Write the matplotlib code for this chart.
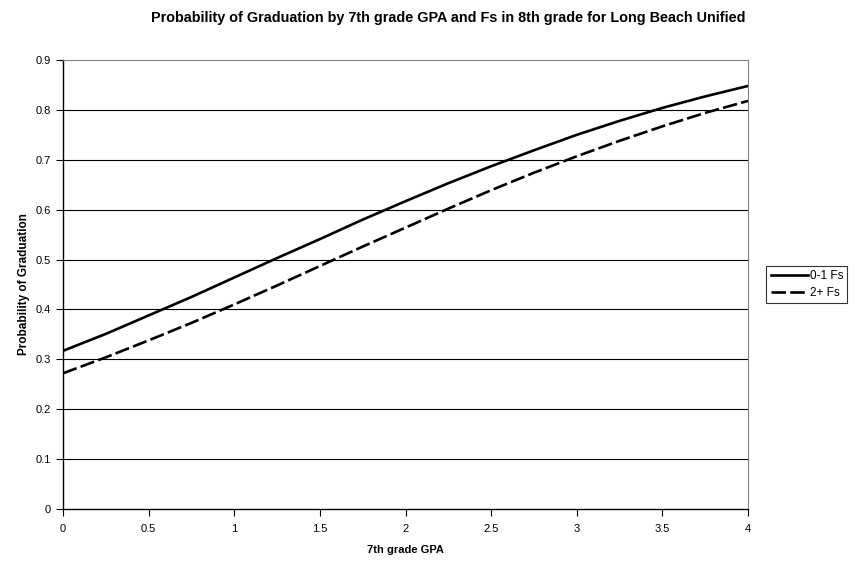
import matplotlib
matplotlib.use("Agg")
import matplotlib.pyplot as plt
from matplotlib.ticker import FuncFormatter

plt.rcParams['font.family'] = ['Liberation Sans', 'DejaVu Sans']

gpa = [0, 0.25, 0.5, 0.75, 1.0, 1.25, 1.5, 1.75, 2.0, 2.25, 2.5, 2.75, 3.0, 3.25, 3.5, 3.75, 4.0]
fs_0_1 = [0.317, 0.351, 0.388, 0.425, 0.464, 0.503, 0.541, 0.580, 0.617, 0.653, 0.687, 0.719, 0.750, 0.778, 0.804, 0.827, 0.848]
fs_2p = [0.272, 0.304, 0.338, 0.373, 0.410, 0.448, 0.487, 0.526, 0.564, 0.602, 0.639, 0.674, 0.707, 0.738, 0.767, 0.794, 0.818]
series_labels = ["0-1 Fs", "2+ Fs"]
x_ticks = [0, 0.5, 1, 1.5, 2, 2.5, 3, 3.5, 4]
y_ticks = [0, 0.1, 0.2, 0.3, 0.4, 0.5, 0.6, 0.7, 0.8, 0.9]

fig = plt.figure(figsize=(8.56, 5.63), dpi=100)
ax = fig.add_axes([63/856, 54/563, (748-63)/856, (509-60)/563])

for y in y_ticks[1:-1]:
    ax.axhline(y, color='black', lw=0.8, zorder=1)

ax.plot(gpa, fs_0_1, color='black', lw=1.9, label=series_labels[0], zorder=3)
ax.plot(gpa, fs_2p, color='black', lw=1.9, dashes=(5.5, 1.6), label=series_labels[1], zorder=3)

ax.set_xlim(0, 4)
ax.set_ylim(0, 0.9)
ax.set_xticks(x_ticks)
ax.set_yticks(y_ticks)
fmt = FuncFormatter(lambda v, p: ('%g' % round(v, 2)))
ax.xaxis.set_major_formatter(fmt)
ax.yaxis.set_major_formatter(fmt)
ax.tick_params(axis='both', direction='out', length=5, width=0.8, labelsize=8, color='black')
ax.tick_params(axis='x', pad=6)

ax.spines['left'].set_color('black')
ax.spines['bottom'].set_color('black')
ax.spines['left'].set_linewidth(1.0)
ax.spines['bottom'].set_linewidth(1.0)
ax.spines['top'].set_color('#808080')
ax.spines['right'].set_color('#808080')

ax.set_xlabel('7th grade GPA', fontsize=8, fontweight='bold', labelpad=8)
ax.set_ylabel('Probability of Graduation', fontsize=8.5, fontweight='bold', labelpad=4)

fig.text(448/856, 1 - 18/563, 'Probability of Graduation by 7th grade GPA and Fs in 8th grade for Long Beach Unified',
         ha='center', va='center', fontsize=10.4, fontweight='bold')

leg = ax.legend(loc='center left', bbox_to_anchor=(1.027, 0.5), fontsize=8.5, frameon=True,
                fancybox=False, edgecolor='black', handlelength=3.2, handletextpad=0.1,
                borderpad=0.35, labelspacing=0.45, borderaxespad=0)
leg.get_frame().set_linewidth(0.8)

fig.savefig('out.png', dpi=100)
